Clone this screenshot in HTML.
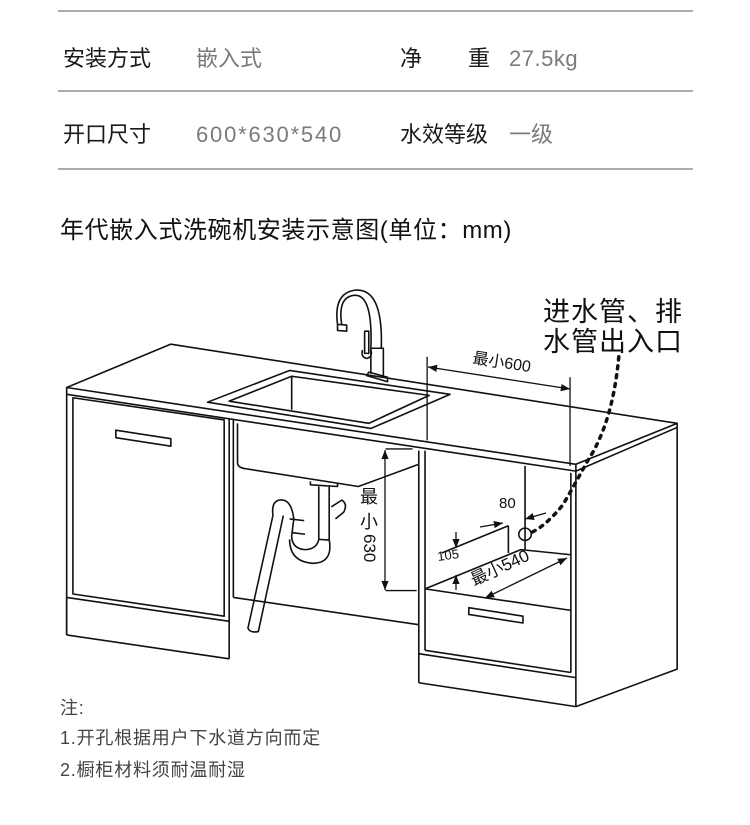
<!DOCTYPE html>
<html><head><meta charset="utf-8"><style>
html,body{margin:0;padding:0;background:#fff;}
body{width:750px;height:825px;position:relative;overflow:hidden;font-family:"Liberation Sans","Noto Sans CJK SC",sans-serif;}
.t{position:absolute;white-space:nowrap;line-height:1;}
.hl{position:absolute;left:58px;width:635px;height:2px;background:#a9adb0;}
.k{color:#1a1a1a;font-size:22px;}
.v{color:#777b80;font-size:22px;}
.n{color:#444;font-size:18px;left:60px;letter-spacing:0.8px;}
</style></head><body>
<div class="hl" style="top:10px"></div>
<div class="hl" style="top:90px"></div>
<div class="hl" style="top:168px"></div>
<div class="t k" style="left:63px;top:48px">安装方式</div>
<div class="t v" style="left:196px;top:48px">嵌入式</div>
<div class="t k" style="left:400px;top:48px">净</div>
<div class="t k" style="left:468px;top:48px">重</div>
<div class="t v" style="left:509px;top:48px;letter-spacing:0.5px">27.5kg</div>
<div class="t k" style="left:63px;top:124px">开口尺寸</div>
<div class="t v" style="left:196px;top:124px;letter-spacing:1.8px">600*630*540</div>
<div class="t k" style="left:400px;top:124px">水效等级</div>
<div class="t v" style="left:509px;top:124px">一级</div>
<div class="t" style="left:60px;top:219px;font-size:24px;letter-spacing:0.6px;color:#111">年代嵌入式洗碗机安装示意图(单位：mm)</div>

<svg width="750" height="825" style="position:absolute;left:0;top:0" xmlns="http://www.w3.org/2000/svg">
<defs>
<marker id="a" viewBox="0 0 10 10" refX="10" refY="5" markerWidth="7" markerHeight="7" orient="auto-start-reverse"><path d="M0,1 L10,5 L0,9 z" fill="#111"/></marker>
</defs>
<g transform="translate(50,280) scale(0.4167,0.3413)" fill="none" stroke="#111" stroke-width="1.6" stroke-linejoin="round">
<g>
<path vector-effect="non-scaling-stroke" d="M40,315 L290,188 L1505,420 L1262,540 Z" fill="#fff"/>
<path vector-effect="non-scaling-stroke" d="M40,315 L40,335 L1262,560 L1262,540 M1262,560 L1505,432 L1505,420"/>
<path vector-effect="non-scaling-stroke" d="M40,335 L40,1040 M55,345 L418,410 L418,985 L55,920 Z M430,405 L430,1110 M440,408 L440,930"/>
<path vector-effect="non-scaling-stroke" d="M158,440 L290,465 L290,487 L158,462 Z"/>
<path vector-effect="non-scaling-stroke" d="M40,930 L430,1000 M40,1040 L430,1110 M40,930 L40,1040"/>
<path vector-effect="non-scaling-stroke" d="M440,930 L885,1010"/>
<path vector-effect="non-scaling-stroke" d="M378,358 L575,265 L960,335 L770,435 Z" fill="#fff"/>
<path vector-effect="non-scaling-stroke" d="M430,355 L580,282 L910,338 L765,420 Z M580,282 L580,380"/>
<path vector-effect="non-scaling-stroke" d="M450,420 L450,535 Q450,550 470,553 L740,605 L885,540"/>
<path vector-effect="non-scaling-stroke" d="M760,280 L810,298 L810,285 L765,270 Z M770,275 L770,200 L800,200 L800,285"/>
<path vector-effect="non-scaling-stroke" d="M770,200 Q775,40 730,45 Q690,50 700,130 M795,200 Q800,20 730,30 Q680,40 690,130 M690,130 L712,132 L712,150 L690,148 Z"/>
<path vector-effect="non-scaling-stroke" d="M755,150 L765,150 L765,215 L755,215 Z M750,205 Q745,225 760,230 Q775,225 770,205"/>
<path vector-effect="non-scaling-stroke" d="M625,590 L625,600 L690,605 L690,595 M645,605 L645,760 M670,605 L670,760 M675,665 L700,645 Q715,655 705,680 L685,700"/>
<path vector-effect="non-scaling-stroke" d="M645,760 Q640,790 610,790 Q580,785 580,750 L585,700 Q580,650 560,645 Q530,640 535,690 L475,1020 Q480,1035 500,1030 L560,690 M670,760 Q680,830 630,830 Q575,825 575,760 M575,700 L610,705 M580,740 L612,745 M645,760 L670,762"/>
<path vector-effect="non-scaling-stroke" d="M885,500 L885,1180 M900,500 L900,1085 M1262,560 L1262,1250 M1250,565 L1250,1150 M1505,432 L1505,1140 L1262,1250"/>
<path vector-effect="non-scaling-stroke" d="M885,1095 L1262,1165 M885,1180 L1262,1250 M900,1085 L1250,1150"/>
<path vector-effect="non-scaling-stroke" d="M1140,545 L1140,790 M900,905 L1250,968 M900,905 L1130,790 L1250,805 M1100,720 L1100,800 M940,800 L1100,720"/>
<path vector-effect="non-scaling-stroke" d="M1005,960 L1135,985 L1135,1005 L1005,980 Z"/>
<ellipse vector-effect="non-scaling-stroke" cx="1140" cy="745" rx="15" ry="18"/>
<path vector-effect="non-scaling-stroke" d="M1365,225 Q1350,420 1290,530 Q1250,620 1230,660 Q1190,720 1155,740" stroke-dasharray="3 6" stroke-width="3.5" stroke-linecap="round"/>
<path vector-effect="non-scaling-stroke" d="M905,225 L905,470 M1248,285 L1248,545" stroke-width="1.3"/>
<path vector-effect="non-scaling-stroke" d="M805,495 L870,495 M805,910 L880,910" stroke-width="1.3"/>
</g></g>
<g stroke="#111" stroke-width="1.3" fill="none">
<line x1="428" y1="367" x2="570" y2="389" marker-start="url(#a)" marker-end="url(#a)"/>
<line x1="385" y1="450" x2="385" y2="590" marker-start="url(#a)" marker-end="url(#a)"/>
<line x1="480" y1="527" x2="503" y2="523" marker-end="url(#a)"/>
<line x1="546" y1="513" x2="525" y2="519" marker-end="url(#a)"/>
<line x1="456" y1="532" x2="456" y2="548" marker-end="url(#a)"/>
<line x1="456" y1="590" x2="456" y2="575" marker-end="url(#a)"/>
<line x1="485" y1="598" x2="567" y2="558" marker-start="url(#a)" marker-end="url(#a)"/>
</g>
<g font-family="'Liberation Sans','Noto Sans CJK SC',sans-serif" fill="#111">
<text x="543" y="321" font-size="27" letter-spacing="1">进水管、排</text>
<text x="543" y="351" font-size="27" letter-spacing="1">水管出入口</text>
<text x="472" y="363" font-size="16" transform="rotate(9 472 363)">最小600</text>
<text x="360" y="503" font-size="18">最</text>
<text x="360" y="528" font-size="18">小</text>
<text x="364" y="534" font-size="17" transform="rotate(90 364 534)">630</text>
<text x="499" y="508" font-size="15">80</text>
<text x="438" y="561" font-size="13" transform="rotate(-8 438 561)">105</text>
<text x="474" y="586" font-size="17" transform="rotate(-25 474 586)">最小540</text>
</g>
</svg>
<div class="t n" style="top:699px">注:</div>
<div class="t n" style="top:729px">1.开孔根据用户下水道方向而定</div>
<div class="t n" style="top:761px">2.橱柜材料须耐温耐湿</div>
</body></html>
